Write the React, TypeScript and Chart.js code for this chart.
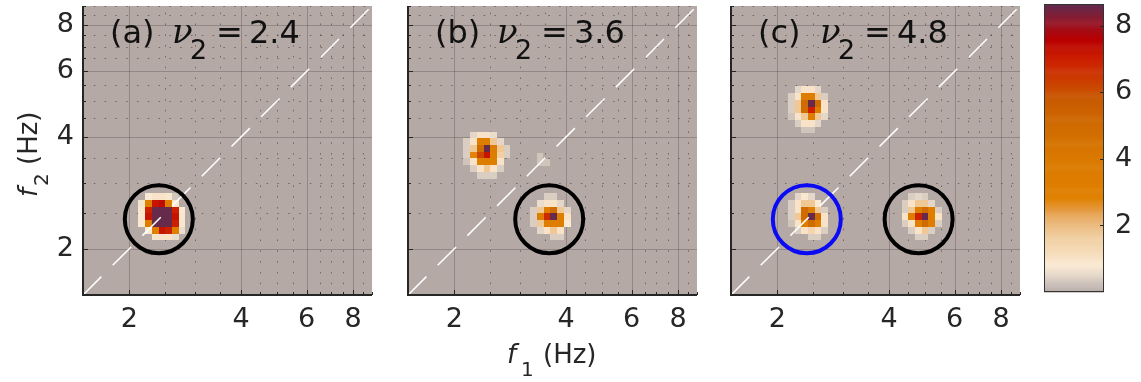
import React, { useEffect, useRef } from 'react';
import { Chart, registerables } from 'chart.js';
Chart.register(...registerables);

// ---------------- axes ----------------
const axisRange = [1.5, 9];
const majorTicks = [2, 4, 6, 8];
const minorTicks = [2.5, 3, 3.5, 4.5, 5, 5.5, 6.5, 7, 7.5, 8.5, 9];
const panelTags = ['(a)', '(b)', '(c)'];
const nu2Labels = ['2.4', '3.6', '4.8'];
const diagonalF = [1.5, 9];

// ---------------- colour scale ----------------
const cbarMax = 8.66;
const cbarTicks = [2, 4, 6, 8];
const cmapStops = [0, 0.25, 0.5, 0.8, 1.2, 1.7, 2.1, 2.5, 2.85, 4.0, 5.0, 5.8, 6.4, 7.0, 7.6, 8.1, 8.66];
const cmapColors = ['#b5a9a6', '#cbbfb8', '#e4d7c9', '#faead4', '#f5dcbb', '#f0cd9e', '#eab779', '#e5993d', '#e08000',
  '#da7a00', '#d06b00', '#c85a00', '#cc3c00', '#cc2000', '#b80000', '#961626', '#602c50'];

// ---------------- spectral cells ----------------
const cellOctave = 0.06; // bin width of the map, in octaves
const blobA1 = [
  [0, 0.8, 1.0, 1.0, 0.9, 0.3, 0],
  [0.7, 3.0, 7.2, 7.4, 3.2, 0.9, 0],
  [0.9, 7.0, 8.6, 8.6, 8.6, 7.0, 0.8],
  [0.9, 7.2, 8.6, 8.6, 8.6, 7.2, 0.9],
  [0.8, 3.2, 8.6, 8.6, 8.6, 7.0, 0.9],
  [0, 0.8, 3.0, 7.2, 7.0, 3.0, 0.6],
  [0, 0, 0.7, 1.0, 1.0, 0.6, 0],
];
const blobB1 = [
  [0, 0.5, 1.0, 1.0, 0.6, 0, 0],
  [0.4, 1.0, 3.2, 3.2, 1.8, 0.5, 0],
  [0.4, 1.8, 5.0, 8.6, 3.5, 1.8, 0.4],
  [0.4, 2.8, 6.2, 7.2, 3.3, 1.6, 0.4],
  [0.3, 1.0, 3.2, 3.5, 3.0, 1.0, 0],
  [0, 0.4, 1.0, 1.8, 1.0, 0.4, 0],
  [0, 0, 0.4, 0.4, 0.4, 0, 0],
];
const blobB2 = [
  [0, 0, 0.4, 0.4, 0, 0, 0],
  [0, 0.6, 1.0, 1.0, 0.5, 0, 0],
  [0.4, 1.8, 3.2, 5.0, 1.8, 0.5, 0],
  [0.4, 3.2, 6.8, 8.6, 3.3, 1.0, 0],
  [0.4, 1.8, 3.3, 3.3, 3.2, 0.8, 0],
  [0, 0.5, 1.0, 1.8, 1.0, 0, 0],
  [0, 0, 0, 0.4, 0.4, 0, 0],
];
const blobB3 = [
  [0.3, 0],
  [0.3, 0.3],
];
const blobC1 = [
  [0, 0.5, 1.0, 1.0, 0.5, 0, 0],
  [0.4, 1.0, 3.2, 3.3, 1.8, 0.4, 0],
  [0.4, 1.8, 5.0, 8.6, 5.0, 1.0, 0],
  [0.4, 1.8, 5.0, 7.0, 3.3, 1.0, 0],
  [0.3, 1.0, 1.8, 3.2, 1.8, 0.5, 0],
  [0, 0.4, 1.0, 1.0, 0.5, 0, 0],
  [0, 0, 0.3, 0.3, 0, 0, 0],
];
const blobC2 = [
  [0, 0.5, 0.9, 0.5, 0, 0, 0],
  [0.4, 1.0, 1.8, 1.8, 0.8, 0, 0],
  [0.4, 1.0, 5.0, 3.3, 1.8, 0.4, 0],
  [0.4, 1.8, 5.0, 8.6, 5.0, 1.0, 0],
  [0.3, 1.0, 3.2, 5.0, 3.2, 1.0, 0],
  [0, 0.4, 1.0, 1.4, 1.0, 0.4, 0],
  [0, 0, 0, 0.4, 0.4, 0, 0],
];
const blobC3 = [
  [0, 0.4, 0.5, 0.4, 0, 0],
  [0.4, 1.0, 1.8, 1.8, 0.5, 0],
  [0.4, 1.8, 3.3, 5.0, 3.2, 0.4],
  [1.0, 3.2, 7.0, 8.6, 3.3, 1.0],
  [0.4, 1.0, 3.2, 5.0, 3.2, 0.4],
  [0, 0.4, 1.0, 1.8, 0.4, 0],
  [0, 0, 0.4, 0.4, 0, 0],
];
const blobPanel = [0, 1, 1, 1, 2, 2, 2];
const blobF1 = [2.16, 2.16, 3.27, 3.40, 2.18, 2.18, 4.41]; // first column centre (Hz)
const blobF2 = [2.76, 4.045, 2.76, 3.55, 5.355, 2.76, 2.76]; // first row centre (Hz)
const blobValues = [blobA1, blobB1, blobB2, blobB3, blobC1, blobC2, blobC3];

// ---------------- circled peaks ----------------
const circlePanel = [0, 1, 2, 2];
const circleF1 = [2.4, 3.6, 2.4, 4.8];
const circleF2 = [2.4, 2.4, 2.4, 2.4];
const circleKind = ['peak', 'peak', 'ref', 'peak'];

// ---------------- helpers ----------------
const FONT = '"DejaVu Sans", "Liberation Sans", sans-serif';
const TEXT = '#262626';
const circleStyle: Record<string, string> = { peak: '#000000', ref: '#0a0af5' };

function hexToRgb(h: string) {
  const n = parseInt(h.slice(1), 16);
  return [(n >> 16) & 255, (n >> 8) & 255, n & 255];
}
function cmapColor(v: number) {
  const vv = Math.max(cmapStops[0], Math.min(cmapStops[cmapStops.length - 1], v));
  for (let i = 0; i < cmapStops.length - 1; i++) {
    if (vv <= cmapStops[i + 1]) {
      const t = (vv - cmapStops[i]) / (cmapStops[i + 1] - cmapStops[i]);
      const a = hexToRgb(cmapColors[i]);
      const b = hexToRgb(cmapColors[i + 1]);
      const c = a.map((x, k) => Math.round(x + (b[k] - x) * t));
      return `rgb(${c[0]},${c[1]},${c[2]})`;
    }
  }
  return cmapColors[cmapColors.length - 1];
}

const zeroPad = (s: any) => { s.paddingTop = 0; s.paddingBottom = 0; s.paddingLeft = 0; s.paddingRight = 0; };

function panelPlugin(p: number) {
  return {
    id: 'panel' + p,
    beforeDraw(chart: any) {
      const { ctx, chartArea: a } = chart;
      const xs = chart.scales.x;
      const ys = chart.scales.y;
      ctx.save();
      ctx.fillStyle = '#ffffff';
      ctx.fillRect(0, 0, chart.width, chart.height);
      ctx.fillStyle = cmapColor(0);
      ctx.fillRect(a.left, a.top, a.right - a.left, a.bottom - a.top);
      ctx.beginPath();
      ctx.rect(a.left, a.top, a.right - a.left, a.bottom - a.top);
      ctx.clip();
      // minor grid (dotted)
      ctx.lineWidth = 1;
      ctx.strokeStyle = 'rgba(60,45,45,0.55)';
      ctx.setLineDash([1.5, 9.3]);
      for (const v of minorTicks) {
        const x = Math.round(xs.getPixelForValue(v)) + 0.5;
        ctx.beginPath(); ctx.moveTo(x, a.bottom); ctx.lineTo(x, a.top); ctx.stroke();
        const y = Math.round(ys.getPixelForValue(v)) + 0.5;
        ctx.beginPath(); ctx.moveTo(a.left, y); ctx.lineTo(a.right, y); ctx.stroke();
      }
      ctx.setLineDash([]);
      ctx.strokeStyle = 'rgba(70,55,55,0.3)';
      for (const v of majorTicks) {
        const x = Math.round(xs.getPixelForValue(v)) + 0.5;
        ctx.beginPath(); ctx.moveTo(x, a.bottom); ctx.lineTo(x, a.top); ctx.stroke();
        const y = Math.round(ys.getPixelForValue(v)) + 0.5;
        ctx.beginPath(); ctx.moveTo(a.left, y); ctx.lineTo(a.right, y); ctx.stroke();
      }
      // spectral cells
      const half = Math.pow(2, cellOctave / 2);
      blobValues.forEach((m, b) => {
        if (blobPanel[b] !== p) return;
        m.forEach((row, i) => {
          row.forEach((v, j) => {
            if (v <= 0) return;
            const f1 = blobF1[b] * Math.pow(2, j * cellOctave);
            const f2 = blobF2[b] * Math.pow(2, -i * cellOctave);
            const x0 = Math.round(xs.getPixelForValue(f1 / half));
            const x1 = Math.round(xs.getPixelForValue(f1 * half));
            const y0 = Math.round(ys.getPixelForValue(f2 / half));
            const y1 = Math.round(ys.getPixelForValue(f2 * half));
            ctx.fillStyle = cmapColor(v);
            ctx.fillRect(x0, y1, x1 - x0, y0 - y1);
          });
        });
      });
      ctx.restore();
    },
    afterDraw(chart: any) {
      const { ctx, chartArea: a } = chart;
      const xs = chart.scales.x;
      const ys = chart.scales.y;
      ctx.save();
      // tick marks, inward
      ctx.strokeStyle = TEXT;
      ctx.lineWidth = 1;
      const tick = (v: number, len: number) => {
        const x = Math.round(xs.getPixelForValue(v)) + 0.5;
        ctx.beginPath(); ctx.moveTo(x, a.bottom); ctx.lineTo(x, a.bottom - len); ctx.stroke();
        const y = Math.round(ys.getPixelForValue(v)) + 0.5;
        ctx.beginPath(); ctx.moveTo(a.left, y); ctx.lineTo(a.left + len, y); ctx.stroke();
      };
      majorTicks.forEach((v) => tick(v, 5));
      minorTicks.forEach((v) => tick(v, 3));
      // axis lines
      ctx.lineWidth = 2;
      ctx.beginPath();
      ctx.moveTo(a.left, a.top);
      ctx.lineTo(a.left, a.bottom);
      ctx.lineTo(a.right, a.bottom);
      ctx.stroke();
      // panel annotation
      ctx.fillStyle = '#111111';
      ctx.textBaseline = 'alphabetic';
      ctx.textAlign = 'left';
      ctx.font = `32px ${FONT}`;
      ctx.fillText(panelTags[p], a.left + 27, 43);
      ctx.font = 'italic 34px "DejaVu Serif", "Liberation Serif", serif';
      ctx.fillText('ν', a.left + 89, 43);
      ctx.font = `27px ${FONT}`;
      ctx.fillText('2', a.left + 107, 59);
      ctx.font = `32px ${FONT}`;
      ctx.fillText('=', a.left + 133, 43);
      ctx.fillText(nu2Labels[p], a.left + 166, 43);
      // axis titles
      ctx.fillStyle = TEXT;
      if (p === 1) {
        const x0 = a.left + 99;
        ctx.font = `italic 26px ${FONT}`;
        ctx.fillText('f', x0, 363);
        ctx.font = `20px ${FONT}`;
        ctx.fillText('1', x0 + 14, 376);
        ctx.font = `26px ${FONT}`;
        ctx.fillText('(Hz)', x0 + 36, 363);
      }
      if (p === 0) {
        ctx.translate(37, 197);
        ctx.rotate(-Math.PI / 2);
        ctx.font = `italic 26px ${FONT}`;
        ctx.fillText('f', 0, 0);
        ctx.font = `20px ${FONT}`;
        ctx.fillText('2', 11, 11);
        ctx.font = `26px ${FONT}`;
        ctx.fillText('(Hz)', 32, 0);
      }
      ctx.restore();
    },
  };
}

function panelConfig(p: number): any {
  const yW = p === 0 ? 83 : 20;
  const circles: any[] = [];
  circlePanel.forEach((cp, k) => {
    if (cp !== p) return;
    circles.push({
      data: [{ x: circleF1[k], y: circleF2[k] }],
      showLine: false,
      pointStyle: 'circle',
      pointRadius: 34,
      pointBorderWidth: 4,
      pointBackgroundColor: 'rgba(0,0,0,0)',
      pointBorderColor: circleStyle[circleKind[k]],
    });
  });
  const diag = {
    data: diagonalF.map((f) => ({ x: f, y: f })),
    showLine: true,
    borderColor: '#ffffff',
    borderWidth: 1.5,
    borderDash: [26, 16],
    pointRadius: 0,
  };
  const tickFont = { family: FONT, size: 27 };
  return {
    type: 'scatter',
    data: { datasets: [...circles, diag] },
    options: {
      responsive: false,
      animation: false,
      events: [],
      layout: { autoPadding: false, padding: { left: 0, right: 8, top: 6, bottom: 0 } },
      plugins: { legend: { display: false }, tooltip: { enabled: false } },
      scales: {
        x: {
          type: 'logarithmic',
          min: axisRange[0],
          max: axisRange[1],
          grid: { display: false, drawTicks: false },
          border: { display: false },
          afterBuildTicks: (s: any) => { s.ticks = majorTicks.map((v) => ({ value: v })); },
          afterFit: (s: any) => { s.height = 87; zeroPad(s); },
          ticks: { display: true, font: tickFont, color: TEXT, padding: 9, maxRotation: 0, autoSkip: false, callback: (v: any) => String(v) },
        },
        y: {
          type: 'logarithmic',
          min: axisRange[0],
          max: axisRange[1],
          grid: { display: false, drawTicks: false },
          border: { display: false },
          afterBuildTicks: (s: any) => { s.ticks = majorTicks.map((v) => ({ value: v })); },
          afterFit: (s: any) => { s.width = yW; zeroPad(s); },
          ticks: { display: p === 0, font: tickFont, color: TEXT, padding: 9, autoSkip: false, callback: (v: any) => String(v) },
        },
      },
    },
    plugins: [panelPlugin(p)],
  };
}

const colorbarPlugin = {
  id: 'colorbar',
  beforeDraw(chart: any) {
    const { ctx, chartArea: a } = chart;
    const ys = chart.scales.y;
    ctx.save();
    ctx.fillStyle = '#ffffff';
    ctx.fillRect(0, 0, chart.width, chart.height);
    const n = 300;
    for (let k = 0; k < n; k++) {
      const v0 = (k * cbarMax) / n;
      const v1 = ((k + 1) * cbarMax) / n;
      const y0 = ys.getPixelForValue(v0);
      const y1 = ys.getPixelForValue(v1);
      ctx.fillStyle = cmapColor((v0 + v1) / 2);
      ctx.fillRect(a.left, y1, a.right - a.left, y0 - y1 + 0.6);
    }
    ctx.restore();
  },
  afterDraw(chart: any) {
    const { ctx, chartArea: a } = chart;
    const ys = chart.scales.y;
    ctx.save();
    ctx.strokeStyle = '#333333';
    ctx.lineWidth = 1;
    ctx.strokeRect(a.left + 0.5, a.top + 0.5, a.right - a.left - 1, a.bottom - a.top - 1);
    ctx.strokeStyle = TEXT;
    for (const v of cbarTicks) {
      const y = Math.round(ys.getPixelForValue(v)) + 0.5;
      ctx.beginPath(); ctx.moveTo(a.right, y); ctx.lineTo(a.right - 4, y); ctx.stroke();
    }
    ctx.restore();
  },
};

function colorbarConfig(): any {
  return {
    type: 'scatter',
    data: { datasets: [] },
    options: {
      responsive: false,
      animation: false,
      events: [],
      layout: { autoPadding: false, padding: { left: 14, right: 0, top: 4, bottom: 90 } },
      plugins: { legend: { display: false }, tooltip: { enabled: false } },
      scales: {
        x: { display: false, min: 0, max: 1 },
        y: {
          position: 'right',
          min: 0,
          max: cbarMax,
          grid: { display: false, drawTicks: false },
          border: { display: false },
          afterBuildTicks: (s: any) => { s.ticks = cbarTicks.map((v) => ({ value: v })); },
          afterFit: (s: any) => { s.width = 37; zeroPad(s); },
          ticks: { font: { family: FONT, size: 27 }, color: TEXT, padding: 11, callback: (v: any) => String(v) },
        },
      },
    },
    plugins: [colorbarPlugin],
  };
}

function ChartCanvas({ left, width, makeConfig }: { left: number; width: number; makeConfig: () => any }) {
  const ref = useRef<HTMLCanvasElement>(null);
  useEffect(() => {
    const chart = new Chart(ref.current as HTMLCanvasElement, makeConfig());
    return () => chart.destroy();
  }, []);
  return (
    <canvas
      ref={ref}
      width={width}
      height={382}
      style={{ position: 'absolute', left, top: 0, width, height: 382, display: 'block' }}
    />
  );
}

export default function App() {
  return (
    <div style={{ position: 'absolute', left: 0, top: 0, width: 1141, height: 382, background: '#ffffff', overflow: 'hidden' }}>
      <ChartCanvas left={0} width={380} makeConfig={() => panelConfig(0)} />
      <ChartCanvas left={388} width={317} makeConfig={() => panelConfig(1)} />
      <ChartCanvas left={711} width={317} makeConfig={() => panelConfig(2)} />
      <ChartCanvas left={1030} width={111} makeConfig={colorbarConfig} />
    </div>
  );
}
